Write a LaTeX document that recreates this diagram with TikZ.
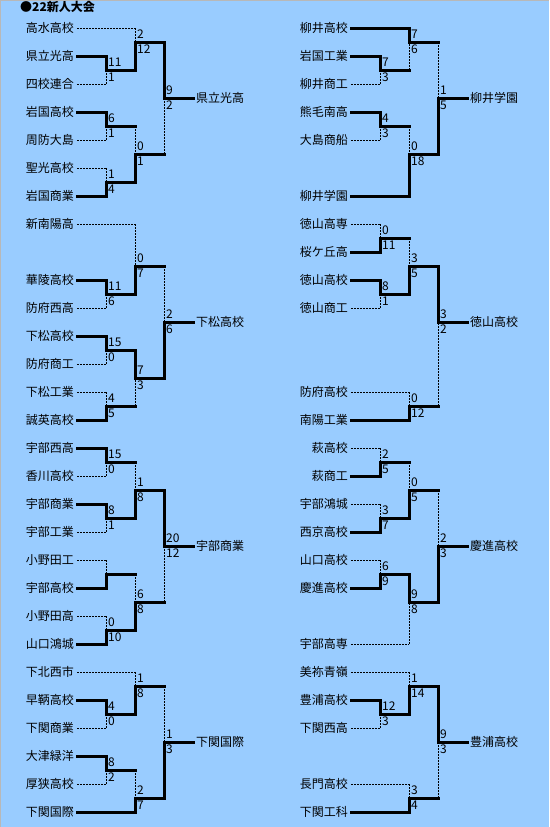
\documentclass[tikz,border=0pt]{standalone}
\usepackage{fontspec}
\setmainfont{Noto Sans CJK JP}
\definecolor{bg}{HTML}{99CCFF}
\definecolor{edge}{HTML}{B8B8B8}
\tikzset{
  win/.style={line width=3pt, line cap=rect, line join=miter},
  lose/.style={line width=1pt, dash pattern=on 2pt off 1pt},
  teamname/.style={anchor=east, inner xsep=3pt, inner ysep=0pt, font=\fontsize{12}{14}\selectfont},
  champ/.style={teamname, anchor=west},
  score/.style={anchor=west, inner sep=1pt, font=\fontsize{12}{14}\selectfont},
}
% #1 name, #2 x, #3 y, #4 top source, #5 bottom source, #6 winner (1 top, 2 bottom),
% #7 top score, #8 bottom score, #9 style of loser's horizontal
\newcommand\bout[9]{%
  \coordinate (#1) at (#2,#3);
  \ifnum#6=1
    \draw[#9] (#5) -- (#5 -| #1);
    \draw[lose] (#5 -| #1) -- (#1);
    \draw[win] (#4) -- (#4 -| #1) -- (#1);
  \else
    \draw[#9] (#4) -- (#4 -| #1);
    \draw[lose] (#4 -| #1) -- (#1);
    \draw[win] (#5) -- (#5 -| #1) -- (#1);
  \fi
  \ifx\relax#7\relax\else
    \node[score] (#1t) at ([shift={(1,-7.5)}]#1) {#7};
    \node[score] (#1b) at ([shift={(1,7)}]#1) {#8};
  \fi
}
\newcommand\team[4]{\node[teamname] (#1) at (#2,#3) {#4};}
\begin{document}
\begin{tikzpicture}[x=1pt,y=-1pt]
\fill[bg] (0,0) rectangle (549,827);
\useasboundingbox (0,0) rectangle (549,827);
\fill[edge] (0,0) rectangle (549,1);
\fill[edge] (0,0) rectangle (1,827);
\node[anchor=west, inner sep=0pt, font=\fontsize{12}{14}\selectfont\bfseries] (title) at (20,7) {●22新人大会};

% ---------- left column teams ----------
\team{L1}{77}{28}{高水高校}
\team{L2}{77}{56}{県立光高}
\team{L3}{77}{84}{四校連合}
\team{L4}{77}{112}{岩国高校}
\team{L5}{77}{140}{周防大島}
\team{L6}{77}{168}{聖光高校}
\team{L7}{77}{196}{岩国商業}
\team{L8}{77}{224}{新南陽高}
\team{L9}{77}{280}{華陵高校}
\team{L10}{77}{308}{防府西高}
\team{L11}{77}{336}{下松高校}
\team{L12}{77}{364}{防府商工}
\team{L13}{77}{392}{下松工業}
\team{L14}{77}{420}{誠英高校}
\team{L15}{77}{448}{宇部西高}
\team{L16}{77}{476}{香川高校}
\team{L17}{77}{504}{宇部商業}
\team{L18}{77}{532}{宇部工業}
\team{L19}{77}{560}{小野田工}
\team{L20}{77}{588}{宇部高校}
\team{L21}{77}{616}{小野田高}
\team{L22}{77}{644}{山口鴻城}
\team{L23}{77}{672}{下北西市}
\team{L24}{77}{700}{早鞆高校}
\team{L25}{77}{728}{下関商業}
\team{L26}{77}{756}{大津緑洋}
\team{L27}{77}{784}{厚狭高校}
\team{L28}{77}{812}{下関国際}

% ---------- right column teams ----------
\team{R1}{351}{28}{柳井高校}
\team{R2}{351}{56}{岩国工業}
\team{R3}{351}{84}{柳井商工}
\team{R4}{351}{112}{熊毛南高}
\team{R5}{351}{140}{大島商船}
\team{R6}{351}{196}{柳井学園}
\team{R7}{351}{224}{徳山高専}
\team{R8}{351}{252}{桜ケ丘高}
\team{R9}{351}{280}{徳山高校}
\team{R10}{351}{308}{徳山商工}
\team{R11}{351}{392}{防府高校}
\team{R12}{351}{420}{南陽工業}
\team{R13}{351}{448}{萩高校}
\team{R14}{351}{476}{萩商工}
\team{R15}{351}{504}{宇部鴻城}
\team{R16}{351}{532}{西京高校}
\team{R17}{351}{560}{山口高校}
\team{R18}{351}{588}{慶進高校}
\team{R19}{351}{644}{宇部高専}
\team{R20}{351}{672}{美祢青嶺}
\team{R21}{351}{700}{豊浦高校}
\team{R22}{351}{728}{下関西高}
\team{R23}{351}{784}{長門高校}
\team{R24}{351}{812}{下関工科}

% ---------- block 1 left ----------
\bout{m1}{106}{70}{L2.east}{L3.east}{1}{11}{1}{lose}
\bout{m2}{135}{42}{L1.east}{m1}{2}{2}{12}{lose}
\bout{m3}{106}{126}{L4.east}{L5.east}{1}{6}{1}{lose}
\bout{m4}{106}{182}{L6.east}{L7.east}{2}{1}{4}{lose}
\bout{m5}{135}{154}{m3}{m4}{2}{0}{1}{win}
\bout{m6}{164}{98}{m2}{m5}{1}{9}{2}{win}
\node[champ] (W1) at (193,98) {県立光高};
\draw[win] (m6) -- (W1.west);

% ---------- block 1 right ----------
\bout{n1}{380}{70}{R2.east}{R3.east}{1}{7}{3}{lose}
\bout{n2}{409}{42}{R1.east}{n1}{1}{7}{6}{win}
\bout{n3}{380}{126}{R4.east}{R5.east}{1}{4}{3}{lose}
\bout{n4}{409}{154}{n3}{R6.east}{2}{0}{18}{win}
\bout{n5}{438}{98}{n2}{n4}{2}{1}{5}{win}
\node[champ] (W2) at (467,98) {柳井学園};
\draw[win] (n5) -- (W2.west);

% ---------- block 2 left ----------
\bout{m7}{106}{294}{L9.east}{L10.east}{1}{11}{6}{lose}
\bout{m8}{135}{266}{L8.east}{m7}{2}{0}{7}{lose}
\bout{m9}{106}{350}{L11.east}{L12.east}{1}{15}{0}{lose}
\bout{m10}{106}{406}{L13.east}{L14.east}{2}{4}{5}{lose}
\bout{m11}{135}{378}{m9}{m10}{1}{7}{3}{win}
\bout{m12}{164}{322}{m8}{m11}{2}{2}{6}{win}
\node[champ] (W3) at (193,322) {下松高校};
\draw[win] (m12) -- (W3.west);

% ---------- block 2 right ----------
\bout{n6}{380}{238}{R7.east}{R8.east}{2}{0}{11}{lose}
\bout{n7}{380}{294}{R9.east}{R10.east}{1}{8}{1}{lose}
\bout{n8}{409}{266}{n6}{n7}{2}{3}{5}{win}
\bout{n9}{409}{406}{R11.east}{R12.east}{2}{0}{12}{lose}
\bout{n10}{438}{322}{n8}{n9}{1}{3}{2}{win}
\node[champ] (W4) at (467,322) {徳山高校};
\draw[win] (n10) -- (W4.west);

% ---------- block 3 left ----------
\bout{m13}{106}{462}{L15.east}{L16.east}{1}{15}{0}{lose}
\bout{m14}{106}{518}{L17.east}{L18.east}{1}{8}{1}{lose}
\bout{m15}{135}{490}{m13}{m14}{2}{1}{8}{win}
\bout{m16}{106}{574}{L19.east}{L20.east}{2}{}{}{lose}
\bout{m17}{106}{630}{L21.east}{L22.east}{2}{0}{10}{lose}
\bout{m18}{135}{602}{m16}{m17}{2}{6}{8}{win}
\bout{m19}{164}{546}{m15}{m18}{1}{20}{12}{win}
\node[champ] (W5) at (193,546) {宇部商業};
\draw[win] (m19) -- (W5.west);

% ---------- block 3 right ----------
\bout{n11}{380}{462}{R13.east}{R14.east}{2}{2}{5}{lose}
\bout{n12}{380}{518}{R15.east}{R16.east}{2}{3}{7}{lose}
\bout{n13}{409}{490}{n11}{n12}{2}{0}{5}{win}
\bout{n14}{380}{574}{R17.east}{R18.east}{2}{6}{9}{lose}
\bout{n15}{409}{602}{n14}{R19.east}{1}{9}{8}{lose}
\bout{n16}{438}{546}{n13}{n15}{2}{2}{3}{win}
\node[champ] (W6) at (467,546) {慶進高校};
\draw[win] (n16) -- (W6.west);

% ---------- block 4 left ----------
\bout{m20}{106}{714}{L24.east}{L25.east}{1}{4}{0}{lose}
\bout{m21}{135}{686}{L23.east}{m20}{2}{1}{8}{lose}
\bout{m22}{106}{770}{L26.east}{L27.east}{1}{8}{2}{lose}
\bout{m23}{135}{798}{m22}{L28.east}{2}{2}{7}{win}
\bout{m24}{164}{742}{m21}{m23}{2}{1}{3}{win}
\node[champ] (W7) at (193,742) {下関国際};
\draw[win] (m24) -- (W7.west);

% ---------- block 4 right ----------
\bout{n17}{380}{714}{R21.east}{R22.east}{1}{12}{3}{lose}
\bout{n18}{409}{686}{R20.east}{n17}{2}{1}{14}{lose}
\bout{n19}{409}{798}{R23.east}{R24.east}{2}{3}{4}{lose}
\bout{n20}{438}{742}{n18}{n19}{1}{9}{3}{win}
\node[champ] (W8) at (467,742) {豊浦高校};
\draw[win] (n20) -- (W8.west);
\end{tikzpicture}
\end{document}
